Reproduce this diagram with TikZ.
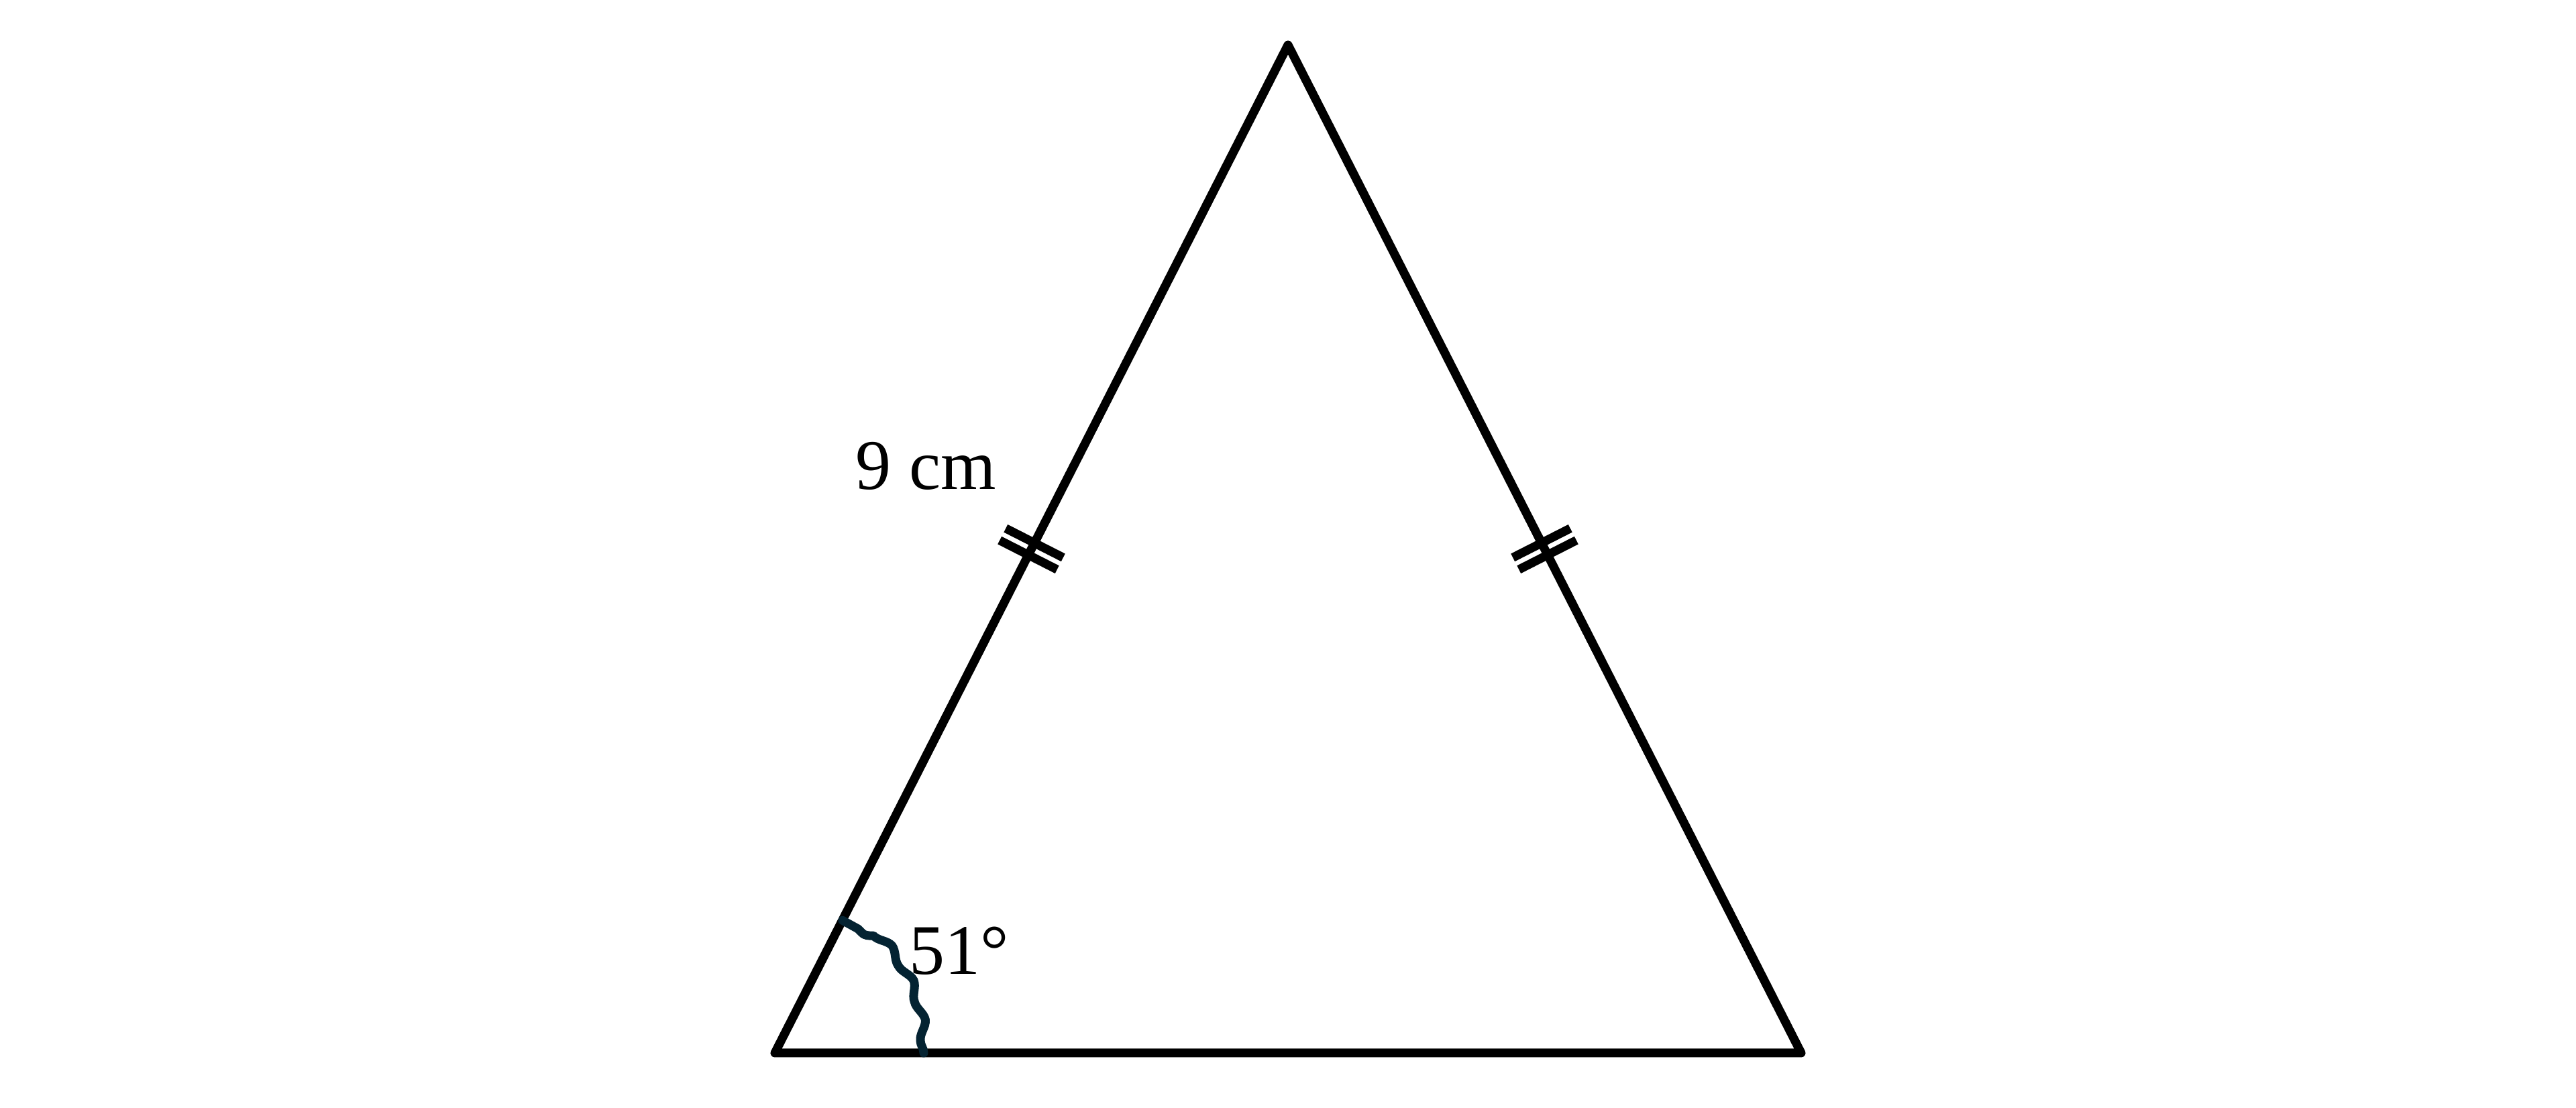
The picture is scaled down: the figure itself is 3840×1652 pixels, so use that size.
\documentclass[tikz,border=0pt]{standalone}
\usepackage{fontspec}
\setmainfont{Liberation Serif}
\usetikzlibrary{calc,decorations.pathmorphing,decorations.markings}
\definecolor{anglecol}{RGB}{4,35,50}
\tikzset{
        % sides of the triangle
        side/.style={line width=1.3pt, line join=round, line cap=round},
        % two equal-length ticks at the middle of a side
        equal ticks/.style={
            postaction={decorate, decoration={markings,
                mark=at position 0.5 with {
                    \draw[line width=1.3pt] (-10,-48) -- (-10,48);
                    \draw[line width=1.3pt] (10,-48) -- (10,48);
                }}}
        },
        % wobbly mark for the angle
        angle wave/.style={color=anglecol, line width=1.3pt, line cap=round, line join=round,
            decorate, decoration={snake, amplitude=0.5pt, segment length=6pt}},
        lbl/.style={font=\fontsize{10.6}{12}\selectfont, inner sep=0pt, anchor=base}
    }
\begin{document}
\begin{tikzpicture}[x=0.1pt,y=0.1pt,yscale=-1]
\useasboundingbox (0,0) rectangle (3840,1652);

% Vertices
\coordinate (bl) at (1155,1570);
\coordinate (br) at (2685,1570);
\coordinate (top) at (1920,67);

% Triangle
\draw [side]  (bl) -- (br) -- (top) -- cycle ;

% Equal sides
\path [equal ticks]  (bl) -- (top) ;
\path [equal ticks]  (br) -- (top) ;

% Angle at the base
\draw [angle wave]  ($(bl)+(222,0)$) arc [start angle=0, end angle=-63, radius=222] ;

% Text Node
\node (len) [lbl] at (1380,730) {9 cm};
% Text Node
\node (ang) [lbl] at (1430,1453) {51°};

\end{tikzpicture}
\end{document}
